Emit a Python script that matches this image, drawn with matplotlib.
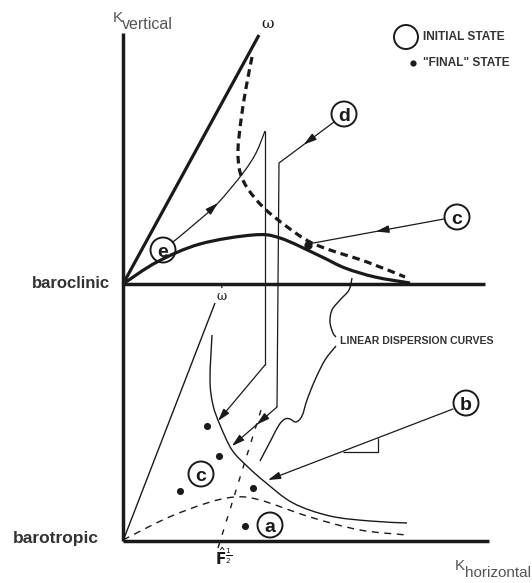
import numpy as np
import matplotlib
matplotlib.use("Agg")
import matplotlib.pyplot as plt
from matplotlib.path import Path
from matplotlib.patches import PathPatch, Circle

plt.rcParams["lines.scale_dashes"] = False
plt.rcParams["font.family"] = ["Liberation Sans", "DejaVu Sans"]

# ---- schematic geometry (diagram units, y grows downward) ----
origin_top = (123, 284)          # baroclinic origin
origin_bot = (123, 541)          # barotropic origin
k_vertical_top = 33
baroclinic_axis_end = 485
barotropic_axis_end = 489

omega_top = [(123, 284), (259, 35)]
omega_bot = [(123, 541), (215, 303)]

baroclinic_solid = [(123, 284), (157, 262), (200, 244), (253, 235), (280, 238),
                    (320, 256), (345, 268), (375, 277), (410, 283)]
baroclinic_dashed = [(252, 57), (246, 88), (241, 120), (238, 150), (240, 172),
                     (248, 189), (264, 208), (286, 226), (308, 241), (330, 250),
                     (367, 262), (405, 277)]
barotropic_solid = [(212, 335), (210, 380), (213, 405), (220, 425), (232, 450),
                    (248, 467), (265, 482), (293, 503), (330, 516), (370, 521),
                    (407, 523)]
barotropic_dashed = [(123, 540), (167, 518), (207, 503), (235, 497), (260, 500),
                     (310, 517), (360, 530), (407, 535)]
f_half_line = [(218, 548), (262, 407)]

path_e_curve = [(173, 242), (197, 222), (218, 203), (243, 173), (256, 153), (265, 131)]
path_e_drop = [(265, 131), (265, 365)]
path_e_tip = (218, 421)
path_d_lines = [(334, 122), (279, 163), (277, 407)]
path_d_tip = (232, 446)
arrow_c = [(444, 219), (308, 244)]
arrow_b = [(453, 409), (268, 480)]
slope_mark = [(343, 452), (378, 452), (378, 438)]

brace_upper = [(352, 278), (349, 290), (340, 300), (332, 310), (330, 322), (333, 333), (336, 337)]
brace_lower = [(336, 346), (325, 360), (315, 380), (307, 400), (302, 416), (296, 422),
               (290, 419), (285, 419), (279, 425), (271, 440), (260, 461)]

final_x = [207, 219, 180, 253, 245]
final_y = [426, 456, 491, 488, 526]
final_c = (308, 245)

tags = ["e", "d", "c", "b", "c", "a"]
tag_x = [163, 344, 457, 466, 201, 270]
tag_y = [250, 114, 217, 403, 474, 525]

INK = "#1a1a1a"
TXT = "#333333"
AXTXT = "#555555"

W, H = 532, 583
fig = plt.figure(figsize=(W / 100, H / 100), dpi=100)
ax = fig.add_axes([0, 0, 1, 1])
ax.set_xlim(0, W)
ax.set_ylim(H, 0)
ax.axis("off")


def smooth(points):
    P = np.asarray(points, float)
    n = len(P)
    verts, codes = [P[0]], [Path.MOVETO]
    for i in range(n - 1):
        p0 = P[i - 1] if i > 0 else P[i]
        p1, p2 = P[i], P[i + 1]
        p3 = P[i + 2] if i + 2 < n else P[i + 1]
        verts += [p1 + (p2 - p0) / 6, p2 - (p3 - p1) / 6, p2]
        codes += [Path.CURVE4] * 3
    return Path(verts, codes)


def curve(points, lw, dashes=None):
    patch = PathPatch(smooth(points), fill=False, lw=lw, ec=INK,
                      capstyle="butt", joinstyle="round")
    if dashes:
        patch.set_linestyle((0, dashes))
    ax.add_patch(patch)


def poly(points, lw, **kw):
    xs, ys = zip(*points)
    ax.plot(xs, ys, color=INK, lw=lw, solid_capstyle="butt", **kw)


def head(tip, tail, lw=1.0):
    ax.annotate("", xy=tip, xytext=tail,
                arrowprops=dict(arrowstyle="-|>,head_length=0.75,head_width=0.22",
                                color=INK, lw=lw, shrinkA=0, shrinkB=0))


def mid_head(a, b, frac, lw=1.0):
    a, b = np.asarray(a, float), np.asarray(b, float)
    tip = a + (b - a) * frac
    d = (b - a) / np.linalg.norm(b - a)
    head(tuple(tip), tuple(tip - d * 4), lw)


# axes
poly([(origin_top[0], k_vertical_top), origin_bot], 2.5)
poly([origin_top, (baroclinic_axis_end, origin_top[1])], 2.5)
poly([origin_bot, (barotropic_axis_end, origin_bot[1])], 2.5)

# baroclinic panel
poly(omega_top, 2.3)
curve(baroclinic_solid, 2.3)
curve(baroclinic_dashed, 2.3, dashes=(5.5, 3.5))

# barotropic panel
poly(omega_bot, 1.0)
curve(barotropic_solid, 1.0)
curve(barotropic_dashed, 1.0, dashes=(5, 4))
poly(f_half_line, 1.0, linestyle=(0, (4, 6)))

# trajectories
curve(path_e_curve, 0.9)
mid_head(path_e_curve[1], path_e_curve[2], 1.0)
poly(path_e_drop, 0.9)
head(path_e_tip, path_e_drop[1], 0.9)

poly(path_d_lines, 0.9)
mid_head(path_d_lines[0], path_d_lines[1], 0.55)
head(path_d_tip, path_d_lines[2], 0.9)
mid_head(path_d_lines[2], path_d_tip, 0.45)

poly(arrow_c, 0.9)
mid_head(arrow_c[0], arrow_c[1], 0.5)
head(arrow_b[1], arrow_b[0], 0.9)
poly(slope_mark, 0.9)

# brace for the dispersion curves
curve(brace_upper, 1.0)
curve(brace_lower, 1.0)

# final states
ax.scatter(final_x, final_y, s=26, color=INK, zorder=5, linewidths=0)
ax.scatter([final_c[0]], [final_c[1]], s=36, color=INK, zorder=5, linewidths=0)

for s, x, y in zip(tags, tag_x, tag_y):
    ax.add_patch(Circle((x, y), 12.5, fill=False, lw=1.4, ec=INK, zorder=6))
    ax.text(x, y + 0.5, s, ha="center", va="center_baseline", fontsize=14,
            fontweight="bold", color=INK, zorder=7)

# legend
ax.add_patch(Circle((406, 37), 12, fill=False, lw=1.4, ec=INK))
ax.text(423, 37, "INITIAL STATE", ha="left", va="center", fontsize=8.6,
        fontweight="bold", color=TXT)
ax.scatter([413], [63], s=20, color=INK, linewidths=0)
ax.text(423, 63, '"FINAL" STATE', ha="left", va="center", fontsize=8.6,
        fontweight="bold", color=TXT)

ax.text(340, 341, "LINEAR DISPERSION CURVES", ha="left", va="center",
        fontsize=7.6, fontweight="bold", color=TXT)

# axis labels
ax.text(32, 283, "baroclinic", ha="left", va="center", fontsize=12,
        fontweight="bold", color=TXT)
ax.text(13, 538, "barotropic", ha="left", va="center", fontsize=12.5,
        fontweight="bold", color=TXT)

ax.text(113, 22, "K", ha="left", va="baseline", fontsize=11, color=AXTXT)
ax.text(122, 29, "vertical", ha="left", va="baseline", fontsize=11.5, color=AXTXT)
ax.text(455, 570, "K", ha="left", va="baseline", fontsize=11, color=AXTXT)
ax.text(465, 577, "horizontal", ha="left", va="baseline", fontsize=11, color=AXTXT)

ax.text(268, 24, "ω", ha="center", va="center", fontsize=11,
        family="DejaVu Serif", color=INK)
ax.text(222, 296, "ω", ha="center", va="center", fontsize=9, family="DejaVu Serif",
        color=INK)
poly([(221, 283), (222, 288)], 0.9)
ax.text(224, 557, r"$\hat{\mathbf{F}}^{\frac{1}{2}}$", ha="center", va="center",
        fontsize=11, color=INK)

fig.savefig("out.png", dpi=100)
